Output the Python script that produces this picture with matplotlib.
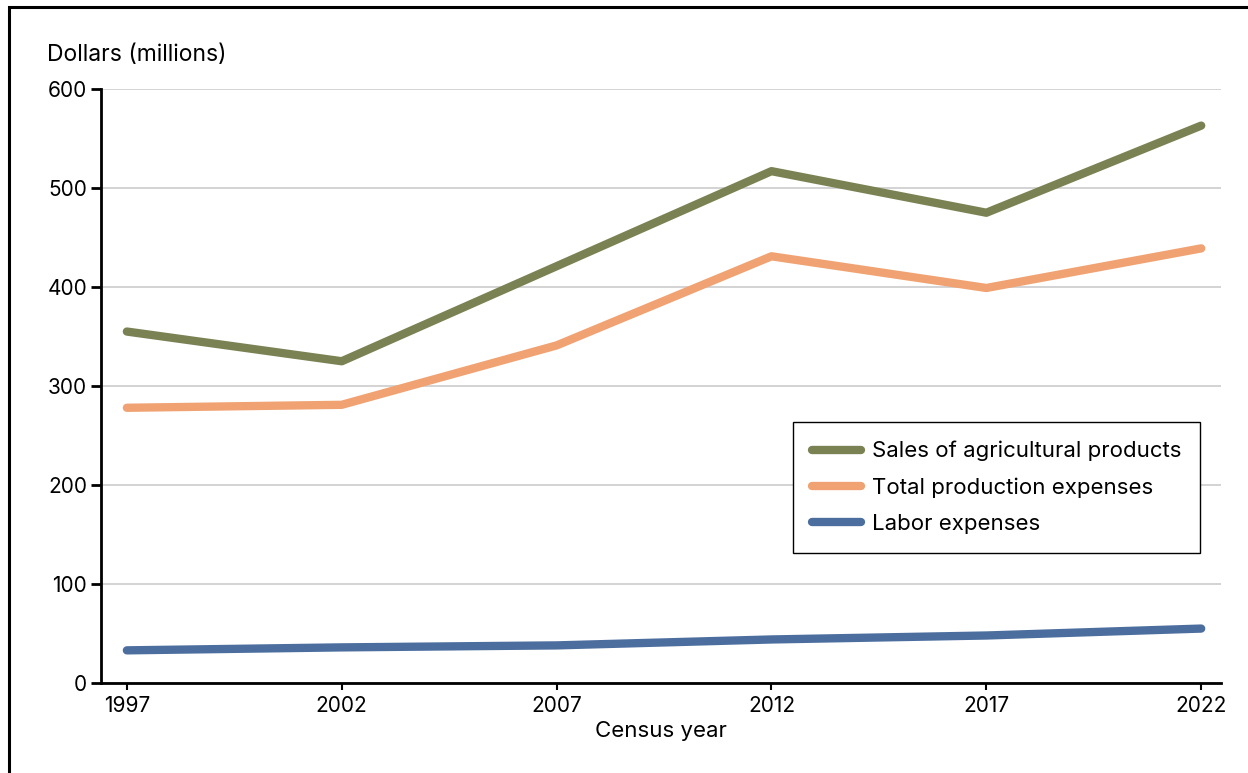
import matplotlib.pyplot as plt
from matplotlib.patches import Rectangle

years = [1997, 2002, 2007, 2012, 2017, 2022]
sales = [355, 325, 421, 517, 475, 563]
production_expenses = [278, 281, 341, 431, 399, 439]
labor_expenses = [33, 36, 38, 44, 48, 55]

series_labels = [
    "Sales of agricultural products",
    "Total production expenses",
    "Labor expenses",
]
series_colors = ["#7a8253", "#f0a272", "#4c6e9f"]

plt.rcParams["font.family"] = ["Inter", "DejaVu Sans"]

fig = plt.figure(figsize=(12.48, 7.73), dpi=100)
ax = fig.add_axes([0.081, 0.1164, 0.897, 0.7685])

# frame around the whole figure (right/bottom edges run off the canvas)
fig.patches.append(Rectangle((0.0075, -0.05), 1.2, 1.041, transform=fig.transFigure,
                             fill=False, edgecolor="black", linewidth=2.2))

for values, label, color in zip([sales, production_expenses, labor_expenses],
                                series_labels, series_colors):
    ax.plot(years, values, color=color, linewidth=6, solid_capstyle="round",
            solid_joinstyle="round", label=label)

ax.set_xlim(1996.4, 2022.45)
ax.set_ylim(0, 600)
ax.set_xticks(years)
ax.set_yticks(range(0, 601, 100))
ax.grid(axis="y", color="#cccccc", linewidth=1.2)
ax.set_axisbelow(True)

for side in ["top", "right"]:
    ax.spines[side].set_visible(False)
for side in ["left", "bottom"]:
    ax.spines[side].set_linewidth(2)

ax.tick_params(axis="y", length=7, width=2, labelsize=15, pad=3)
ax.tick_params(axis="x", length=5, width=1.5, labelsize=15, pad=4)

ax.set_xlabel("Census year", fontsize=16, labelpad=4)
fig.text(0.038, 0.929, "Dollars (millions)", fontsize=16.5, va="center", ha="left")

leg = ax.legend(loc="upper right", bbox_to_anchor=(0.982, 0.4394), borderaxespad=0,
                fontsize=16, frameon=True, fancybox=False, edgecolor="black",
                framealpha=1, handlelength=2.2, handletextpad=0.5, borderpad=0.85,
                labelspacing=0.72)
leg.get_frame().set_linewidth(1)

fig.savefig("out.png", dpi=100)
